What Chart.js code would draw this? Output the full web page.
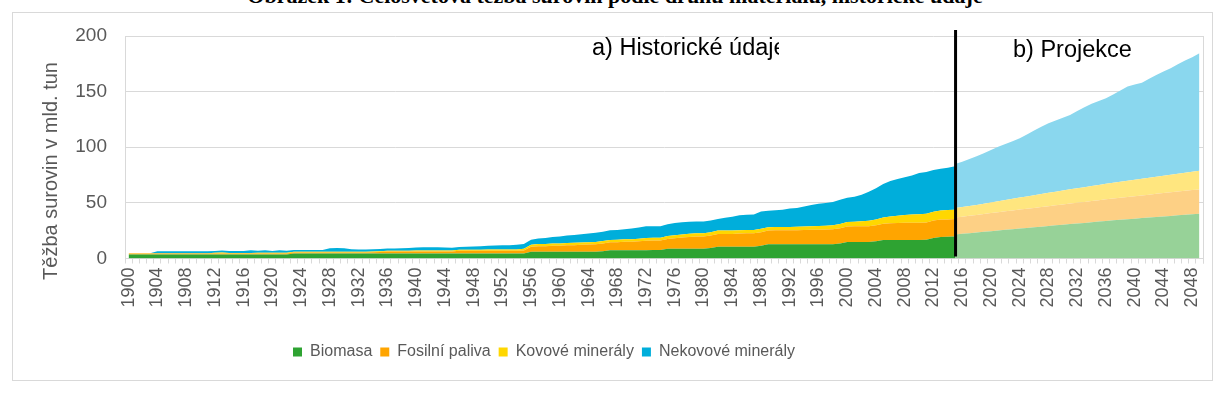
<!DOCTYPE html>
<html>
<head>
<meta charset="utf-8">
<title>Těžba surovin 1900–2050</title>
<script src="https://cdn.jsdelivr.net/npm/chart.js"></script>
<style>
  body { margin: 0; background: #fff; width: 1218px; height: 414px; overflow: hidden; position: relative; }
  .caption { position: absolute; left: 0; width: 1230px; top: -17px; text-align: center; font: bold 22px "Liberation Serif", serif; color: #000; white-space: nowrap; }
  .frame { position: absolute; left: 12px; top: 12px; width: 1201px; height: 369px; box-sizing: border-box; border: 1px solid #d9d9d9; background: #fff; }
  .frame canvas { position: absolute; left: 0; top: 0; }
</style>
</head>
<body>
<div class="caption">Obrázek 1: Celosvětová těžba surovin podle druhu materiálu, historické údaje</div>
<div class="frame"><canvas id="chart" width="1199" height="367"></canvas></div>
<script>
// years on the category axis
const firstYear = 1900;
const lastYear = 2049;
const years = [];
for (let y = firstYear; y <= lastYear; y++) years.push(String(y));

// historical data 1900-2015, mld. tun per layer
const histBiomasa = [
  3.6, 3.6, 3.6, 3.6, 3.6, 3.6, 3.6, 3.6, 3.6, 3.6,
  3.6, 3.6, 3.6, 3.6, 3.6, 3.6, 3.6, 3.6, 3.6, 3.6,
  3.6, 3.6, 3.6, 4.5, 4.5, 4.5, 4.5, 4.5, 4.5, 4.5,
  4.5, 4.5, 4.5, 4.5, 4.5, 4.5, 4.5, 4.5, 4.5, 4.5,
  4.5, 4.5, 4.5, 4.5, 4.5, 4.5, 4.5, 4.5, 4.5, 4.5,
  4.5, 4.5, 4.5, 4.5, 4.5, 4.6, 6.0, 6.0, 6.0, 6.0,
  6.0, 6.0, 6.0, 6.1, 6.1, 6.1, 6.5, 7.5, 7.5, 7.5,
  7.5, 7.5, 7.5, 7.6, 7.6, 8.8, 8.8, 8.8, 8.8, 8.8,
  8.8, 9.5, 10.6, 10.6, 10.6, 10.6, 10.6, 10.6, 11.5, 12.8,
  12.8, 12.8, 12.8, 12.8, 12.8, 12.8, 12.8, 12.8, 12.8, 13.5,
  14.9, 14.9, 14.9, 14.9, 15.5, 16.7, 16.7, 16.7, 16.7, 16.7,
  16.7, 16.8, 18.5, 19.4, 19.5, 19.8
];
const histFosilni = [
  0.8, 0.8, 0.8, 0.8, 0.8, 0.8, 0.8, 0.8, 0.8, 0.8,
  0.8, 0.8, 0.8, 0.9, 0.9, 0.9, 0.9, 1.0, 1.0, 1.0,
  1.0, 1.0, 1.0, 1.0, 1.0, 1.0, 1.0, 1.0, 1.0, 1.0,
  1.0, 1.0, 1.0, 1.0, 1.2, 1.4, 1.8, 1.8, 1.8, 1.8,
  1.8, 1.8, 1.8, 1.8, 1.8, 1.8, 2.5, 2.5, 2.5, 2.5,
  2.5, 2.5, 2.5, 2.5, 2.5, 2.6, 4.5, 5.0, 5.0, 5.5,
  5.5, 6.0, 6.0, 6.2, 6.5, 6.7, 7.0, 7.0, 7.2, 7.5,
  7.6, 8.0, 8.5, 8.5, 8.5, 8.8, 9.5, 10.0, 10.5, 11.0,
  11.0, 11.2, 11.5, 11.5, 11.5, 11.8, 12.0, 12.0, 12.2, 12.4,
  12.6, 12.6, 12.6, 12.6, 12.8, 13.0, 13.0, 13.2, 13.4, 13.6,
  13.8, 14.0, 14.0, 14.2, 14.4, 14.6, 15.0, 15.2, 15.4, 15.5,
  15.5, 15.6, 15.6, 15.6, 15.6, 15.6
];
const histKovove = [
  0.4, 0.4, 0.4, 0.4, 0.4, 0.4, 0.4, 0.4, 0.4, 0.4,
  0.4, 0.4, 0.8, 1.0, 0.5, 0.4, 0.4, 0.4, 0.6, 0.6,
  0.6, 0.6, 0.6, 0.6, 0.6, 0.6, 0.6, 0.6, 0.6, 0.6,
  0.6, 0.6, 0.6, 0.6, 0.6, 0.6, 0.6, 0.6, 0.6, 0.6,
  0.8, 0.8, 0.8, 0.8, 0.8, 0.8, 0.8, 0.8, 0.8, 0.8,
  1.0, 1.0, 1.0, 1.0, 1.2, 1.5, 1.8, 2.0, 2.0, 2.0,
  2.0, 2.0, 2.1, 2.1, 2.1, 2.1, 2.2, 2.2, 2.2, 2.3,
  2.3, 2.3, 2.4, 2.5, 2.5, 2.6, 2.7, 2.8, 2.9, 3.0,
  3.0, 3.0, 3.0, 3.0, 3.0, 3.0, 3.0, 3.0, 3.0, 3.0,
  3.0, 3.0, 3.0, 3.1, 3.2, 3.3, 3.4, 3.5, 3.6, 3.8,
  4.0, 4.2, 4.5, 4.8, 5.2, 5.6, 6.0, 6.5, 7.0, 7.3,
  7.6, 7.8, 8.0, 8.2, 8.4, 8.5
];
const histNekovove = [
  0.0, 0.0, 0.0, 0.0, 1.8, 1.8, 1.8, 1.8, 1.8, 1.8,
  1.8, 1.8, 1.6, 1.6, 1.8, 1.8, 1.8, 2.4, 1.8, 2.2,
  1.6, 2.2, 1.8, 1.5, 1.5, 1.5, 1.5, 1.6, 3.2, 3.4,
  3.2, 2.2, 2.0, 2.0, 2.0, 2.0, 2.0, 2.2, 2.4, 2.6,
  2.8, 3.0, 3.0, 3.0, 2.8, 2.6, 2.6, 2.8, 3.0, 3.2,
  3.4, 3.6, 3.8, 4.0, 4.2, 4.4, 4.6, 5.0, 5.4, 5.8,
  6.2, 6.6, 7.0, 7.4, 7.8, 8.2, 8.4, 8.6, 8.8, 9.0,
  9.5, 10.0, 10.5, 10.5, 10.5, 10.5, 10.8, 11.0, 10.8, 10.5,
  10.5, 10.5, 10.5, 11.5, 12.5, 13.5, 13.8, 14.0, 15.5, 14.8,
  15.0, 15.5, 16.5, 17.0, 18.0, 19.0, 20.0, 20.5, 21.0, 22.0,
  22.0, 22.5, 24.0, 26.0, 28.0, 30.0, 32.0, 33.0, 34.0, 35.0,
  37.0, 37.5, 37.5, 37.5, 38.0, 39.0
];

// projection 2015-2049
const projBiomasa = [
  21.5, 22.2, 22.8, 23.4, 24.0, 24.6, 25.2, 25.8, 26.4, 27.0,
  27.5, 28.0, 28.6, 29.2, 29.8, 30.4, 31.0, 31.5, 32.0, 32.6,
  33.2, 33.8, 34.3, 34.8, 35.3, 35.8, 36.3, 36.8, 37.3, 37.8,
  38.3, 38.8, 39.3, 39.8, 40.3
];
const projFosilni = [
  15.3, 15.4, 15.6, 15.8, 16.0, 16.2, 16.4, 16.6, 16.8, 17.0,
  17.2, 17.4, 17.6, 17.8, 18.0, 18.2, 18.4, 18.6, 18.8, 19.0,
  19.2, 19.4, 19.6, 19.8, 20.0, 20.2, 20.4, 20.6, 20.8, 21.0,
  21.2, 21.4, 21.6, 21.7, 21.8
];
const projKovove = [
  8.6, 8.6, 8.8, 9.0, 9.3, 9.6, 9.9, 10.2, 10.5, 10.8,
  11.1, 11.4, 11.7, 12.0, 12.3, 12.6, 12.9, 13.1, 13.3, 13.5,
  13.7, 13.9, 14.1, 14.3, 14.5, 14.7, 14.9, 15.1, 15.3, 15.5,
  15.7, 15.9, 16.2, 16.5, 16.7
];
const projNekovove = [
  39.6, 40.8, 42.3, 43.8, 45.2, 47.1, 49.0, 50.4, 51.8, 53.2,
  55.7, 58.2, 60.6, 62.5, 63.9, 65.3, 66.7, 69.3, 71.9, 73.9,
  75.4, 76.9, 79.5, 82.1, 84.7, 85.8, 86.4, 89.0, 91.6, 93.7,
  95.8, 98.4, 100.9, 103.0, 105.6
];

const seriesNames = ['Biomasa', 'Fosilní paliva', 'Kovové minerály', 'Nekovové minerály'];
const darkColors = ['#2ea332', '#ffa500', '#ffd700', '#00aedb'];
const lightColors = ['#97d298', '#fdd085', '#ffe67f', '#8ad7ee'];
const yTicks = [0, 50, 100, 150, 200];
const yTitle = 'Těžba surovin v mld. tun';

const splitYear = '2015';
const splitIndex = years.indexOf(splitYear);
const tail = new Array(years.length - splitIndex - 1).fill(null);
const head = new Array(splitIndex).fill(null);

const histSets = [histBiomasa, histFosilni, histKovove, histNekovove];
const projSets = [projBiomasa, projFosilni, projKovove, projNekovove];

const datasets = [];
histSets.forEach((arr, i) => {
  datasets.push({
    label: seriesNames[i],
    data: arr.concat(tail),
    stack: 'hist',
    backgroundColor: darkColors[i],
    borderColor: 'rgba(0,0,0,0)',
    borderWidth: 0,
    fill: i === 0 ? 'origin' : '-1',
    pointRadius: 0
  });
});
projSets.forEach((arr, i) => {
  datasets.push({
    label: seriesNames[i] + ' (projekce)',
    data: head.concat(arr),
    stack: 'proj',
    backgroundColor: lightColors[i],
    borderColor: 'rgba(0,0,0,0)',
    borderWidth: 0,
    fill: i === 0 ? 'origin' : '-1',
    pointRadius: 0
  });
});

const textGrey = '#595959';
const gridGrey = '#d9d9d9';
const fontFamily = '"Liberation Sans", Arial, sans-serif';

// black divider, the two section labels, right border and the y title
const dividerPlugin = {
  id: 'divider',
  afterDatasetsDraw(chart) {
    const { ctx, chartArea, scales } = chart;
    const xPos = scales.x.getPixelForValue(splitIndex) + 0.5;
    ctx.save();
    ctx.strokeStyle = gridGrey;
    ctx.lineWidth = 1;
    ctx.beginPath();
    ctx.moveTo(chartArea.right + 0.5, chartArea.top);
    ctx.lineTo(chartArea.right + 0.5, chartArea.bottom + 5);
    ctx.stroke();

    ctx.strokeStyle = '#000';
    ctx.lineWidth = 3;
    ctx.beginPath();
    ctx.moveTo(xPos, chartArea.top - 6);
    ctx.lineTo(xPos, chartArea.bottom - 2);
    ctx.stroke();

    ctx.fillStyle = '#000';
    ctx.font = '23.5px ' + fontFamily;
    ctx.textBaseline = 'alphabetic';
    ctx.textAlign = 'left';
    ctx.fillText('b) Projekce', chartArea.left + 888, chartArea.top + 21);

    ctx.save();
    ctx.beginPath();
    ctx.rect(chartArea.left, chartArea.top - 20, 654, 60);
    ctx.clip();
    ctx.fillText('a) Historické údaje', chartArea.left + 467, chartArea.top + 19);
    ctx.restore();

    ctx.fillStyle = textGrey;
    ctx.font = '20px ' + fontFamily;
    ctx.textAlign = 'center';
    ctx.textBaseline = 'middle';
    ctx.translate(38, chartArea.top + 135);
    ctx.rotate(-Math.PI / 2);
    ctx.fillText(yTitle, 0, 0);
    ctx.restore();
  }
};

// legend sits left of centre in the original
const legendShift = {
  id: 'legendShift',
  afterLayout(chart) {
    chart.legend.left -= 64;
    chart.legend.right -= 64;
  }
};

new Chart(document.getElementById('chart'), {
  type: 'line',
  data: { labels: years, datasets: datasets },
  options: {
    responsive: false,
    animation: false,
    layout: { padding: { left: 0, top: 23, right: 9, bottom: 10 } },
    elements: { line: { tension: 0 } },
    scales: {
      x: {
        offset: true,
        grid: { offset: true, drawOnChartArea: false, color: gridGrey, tickLength: 5 },
        border: { color: gridGrey },
        ticks: {
          autoSkip: false,
          minRotation: 90,
          maxRotation: 90,
          padding: 4,
          color: textGrey,
          font: { family: fontFamily, size: 18 },
          callback: (value, index) => (index % 4 === 0 ? years[index] : '')
        },
        afterFit(scale) {
          scale.height = 77.5;
          scale.paddingLeft = 0;
          scale.paddingRight = 0;
        }
      },
      y: {
        stacked: true,
        min: 0,
        max: 200,
        afterBuildTicks(scale) { scale.ticks = yTicks.map(v => ({ value: v })); },
        grid: { color: gridGrey, drawTicks: false },
        border: { color: gridGrey },
        ticks: {
          padding: 18,
          color: textGrey,
          font: { family: fontFamily, size: 19 }
        },
        afterFit(scale) {
          scale.width = 112;
          scale.paddingTop = 0;
          scale.paddingBottom = 0;
        }
      }
    },
    plugins: {
      tooltip: { enabled: false },
      legend: {
        position: 'bottom',
        labels: {
          boxWidth: 9,
          boxHeight: 9,
          padding: 8,
          color: textGrey,
          font: { family: fontFamily, size: 16 },
          filter: item => item.datasetIndex < 4
        }
      }
    }
  },
  plugins: [dividerPlugin, legendShift]
});
</script>
</body>
</html>
